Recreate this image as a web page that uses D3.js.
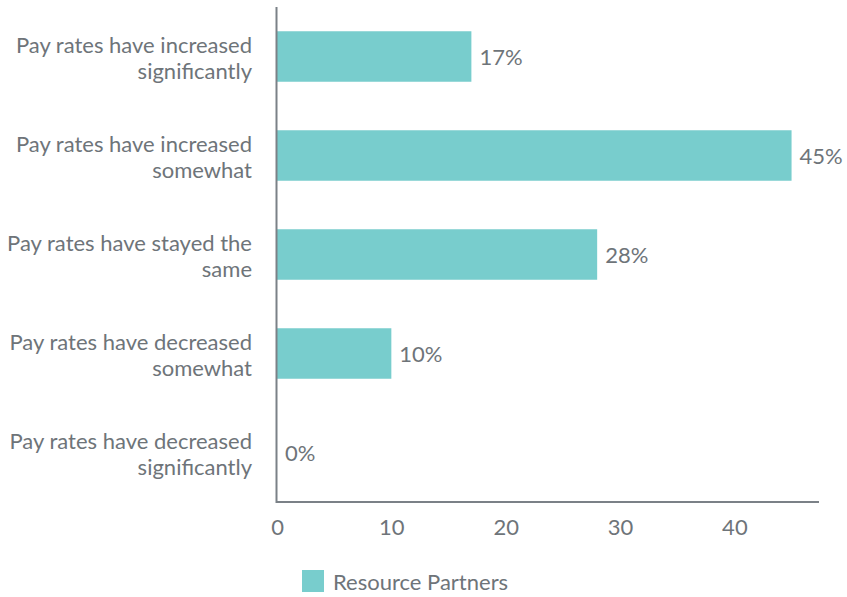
<!DOCTYPE html>
<html><head><meta charset="utf-8">
<script src="https://cdn.jsdelivr.net/npm/d3@7"></script>
<style>body{margin:0;background:#fff;} svg{display:block;font-family:Lato,"Open Sans",sans-serif;}</style>
</head><body>
<svg id="c" width="847" height="597"></svg>
<script>
const categories = [
  ["Pay rates have increased", "significantly"],
  ["Pay rates have increased", "somewhat"],
  ["Pay rates have stayed the", "same"],
  ["Pay rates have decreased", "somewhat"],
  ["Pay rates have decreased", "significantly"]
];
const values = [17, 45, 28, 10, 0];
const xTicks = [0, 10, 20, 30, 40];
const seriesName = "Resource Partners";

const textColor = "#6e7479", axisColor = "#7b8187", barColor = "#78cdcd";
const fs = "22px", fw = 400;
const svg = d3.select("#c");
const x = d3.scaleLinear().domain([0, 47.4]).range([277, 819]);
const y = d3.scaleBand().domain(d3.range(categories.length)).range([7, 502]).paddingInner(0.49).paddingOuter(0.245);

svg.selectAll("rect.bar").data(values).join("rect").attr("class","bar")
  .attr("x", x(0)).attr("y", (d,i)=>y(i)).attr("width", d=>x(d)-x(0)).attr("height", y.bandwidth())
  .attr("fill", barColor);

svg.selectAll("text.val").data(values).join("text").attr("class","val")
  .attr("x", d=>x(d)+8).attr("y", (d,i)=>y(i)+y.bandwidth()/2+1).attr("dy","0.35em")
  .attr("fill", textColor).style("font-size",fs).style("font-weight",fw).text(d=>d+"%");

const lab = svg.selectAll("text.cat").data(categories).join("text").attr("class","cat")
  .attr("text-anchor","end").attr("fill", textColor).style("font-size",fs).style("font-weight",fw);
lab.each(function(d,i){
  const c = y(i)+y.bandwidth()/2+2;
  d3.select(this).selectAll("tspan").data(d).join("tspan")
    .attr("x", 252).attr("y", (t,j)=>c + (j - (d.length-1)/2)*26).attr("dy","0.35em").text(t=>t);
});

// axes
const xa = svg.append("g").attr("transform","translate(0,502)")
  .call(d3.axisBottom(x).tickValues(xTicks).tickSize(0).tickPadding(17));
xa.select(".domain").attr("stroke", axisColor).attr("stroke-width",2).attr("d","M276,0H819");
xa.selectAll("text").attr("fill", textColor).style("font-size",fs).style("font-weight",fw).style("font-family","Lato,sans-serif");

svg.append("line").attr("x1",276.5).attr("x2",276.5).attr("y1",7).attr("y2",503)
  .attr("stroke", axisColor).attr("stroke-width",2);

// legend
const lg = svg.append("g");
lg.append("rect").attr("x",302).attr("y",570).attr("width",22).attr("height",22).attr("fill",barColor);
lg.append("text").attr("x",333).attr("y",582).attr("dy","0.35em").attr("fill",textColor)
  .style("font-size",fs).style("font-weight",fw).text(seriesName);
</script>
</body></html>
